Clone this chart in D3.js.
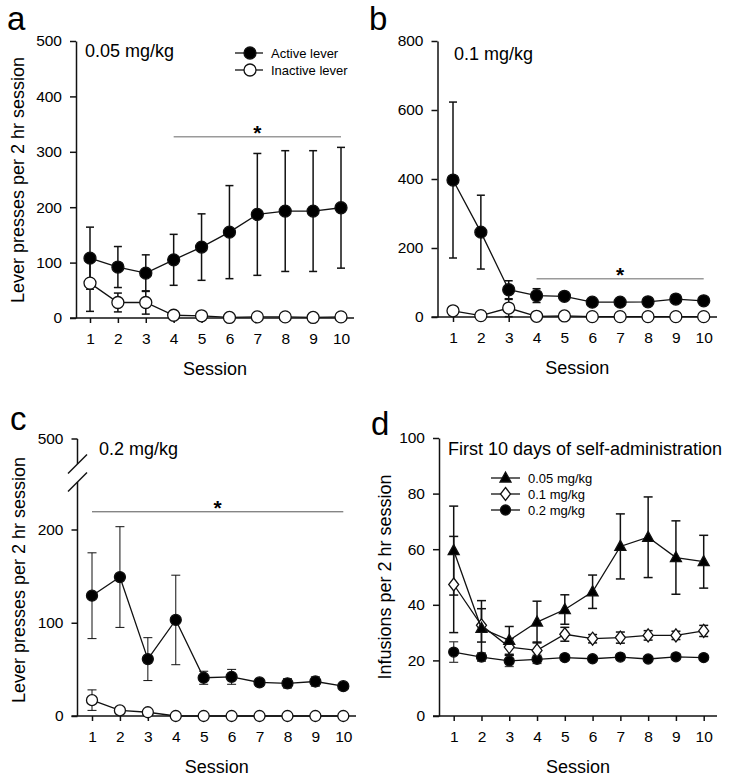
<!DOCTYPE html>
<html>
<head>
<meta charset="utf-8">
<script src="https://cdn.jsdelivr.net/npm/d3@7"></script>
<style>
  body { margin: 0; background: #fff; }
  svg { display: block; font-family: 'Liberation Sans', Arial, sans-serif; }
</style>
</head>
<body>
<svg id="chart" width="729" height="782"></svg>
<script>
const sessions = [1, 2, 3, 4, 5, 6, 7, 8, 9, 10];

// panel a : 0.05 mg/kg lever presses
const aActive = [108, 92, 81, 105, 128, 155, 187, 193, 193, 199];
const aActiveErr = [56, 37, 33, 46, 60, 84, 110, 109, 109, 109];
const aInactive = [63, 28, 28, 5, 4, 1, 2, 2, 1, 2];
const aInactiveErr = [51, 17, 21, 2, 2, 1, 1, 1, 1, 1];
const aTicks = [0, 100, 200, 300, 400, 500];

// panel b : 0.1 mg/kg
const bActive = [397, 246, 79, 62, 60, 43, 43, 44, 52, 47];
const bActiveErr = [226, 107, 26, 20, 8, 5, 5, 5, 6, 8];
const bInactive = [18, 4, 26, 2, 3, 1, 1, 1, 1, 1];
const bInactiveErr = [8, 2, 25, 1, 1, 1, 1, 1, 1, 1];
const bTicks = [0, 200, 400, 600, 800];

// panel c : 0.2 mg/kg (broken axis)
const cActive = [129, 149, 61, 103, 41, 42, 36, 35, 37, 32];
const cActiveErr = [46, 54, 23, 48, 7, 8, 4, 5, 5, 3];
const cInactive = [17, 6, 4, 0, 0, 0, 0, 0, 0, 0];
const cInactiveErr = [11, 3, 2, 0, 0, 0, 0, 0, 0, 0];
const cTicks = [0, 100, 200];
const cBreakTick = 500;

// panel d : infusions
const dLow = [59.5, 31.5, 27.2, 33.8, 38.3, 44.7, 61, 64.3, 57, 55.5];
const dLowErr = [16, 10, 5, 7.5, 5.3, 6, 11.7, 14.5, 13.2, 9.5];
const dMid = [47.3, 32.6, 24.8, 23.6, 29.4, 27.8, 28.2, 29, 29, 30.6];
const dMidErr = [17.3, 6, 3, 3, 2.5, 1.5, 2, 1.7, 1.5, 2];
const dHigh = [23, 21.2, 19.8, 20.4, 21, 20.6, 21.2, 20.5, 21.3, 21];
const dHighErr = [3.7, 1.5, 2, 1.5, 1, 1, 1, 0.8, 1, 0.8];
const dTicks = [0, 20, 40, 60, 80, 100];
const dLegend = ['0.05 mg/kg', '0.1 mg/kg', '0.2 mg/kg'];
const leverLegend = ['Active lever', 'Inactive lever'];

const svg = d3.select('#chart');
const ink = '#111';
const font = "'Liberation Sans', Arial, sans-serif";

const triangle = 'M0,-6L5.5,4L-5.5,4Z';
const diamond = 'M0,-6.5L5,0L0,6.5L-5,0Z';

const appendMarker = (node, shape, fill, r) => {
  if (shape === 'circle') {
    return node.append('circle').attr('r', r).style('fill', fill).style('stroke', ink).style('stroke-width', 1.3);
  }
  return node.append('path').attr('d', shape === 'triangle' ? triangle : diamond)
    .style('fill', fill).style('stroke', ink).style('stroke-width', 1.3);
};

const drawXAxis = (g, p, x) => {
  const axis = g.append('g')
    .attr('transform', `translate(0, ${p.bottom})`)
    .call(d3.axisBottom(x).tickValues(sessions).tickSize(5).tickSizeOuter(0).tickPadding(10));
  axis.select('.domain').remove();
  axis.selectAll('line').style('stroke', ink).style('stroke-width', 1.5);
  axis.selectAll('text').style('font-size', '15.5px').style('fill', '#000').style('font-family', font);
  g.append('line')
    .attr('x1', p.left - 6).attr('x2', p.right)
    .attr('y1', p.bottom).attr('y2', p.bottom)
    .style('stroke', ink).style('stroke-width', 1.5);
  g.append('text')
    .attr('x', (p.left + p.right) / 2)
    .attr('y', p.bottom + 57)
    .attr('text-anchor', 'middle')
    .style('font-size', '18px')
    .text('Session');
};

const drawYAxis = (g, p, y, ticks) => {
  const axis = g.append('g')
    .attr('transform', `translate(${p.left}, 0)`)
    .call(d3.axisLeft(y).tickValues(ticks).tickSize(6).tickSizeOuter(0).tickPadding(8));
  axis.select('.domain').style('stroke', ink).style('stroke-width', 1.5);
  axis.selectAll('line').style('stroke', ink).style('stroke-width', 1.5);
  axis.selectAll('text').style('font-size', '15.5px').style('fill', '#000').style('font-family', font);
  return axis;
};

const drawSeries = (g, x, y, values, errs, opts) => {
  const capW = opts.cap;
  const bars = g.append('g');
  values.forEach((v, i) => {
    if (!errs[i]) return;
    const cx = x(sessions[i]);
    [v + errs[i], Math.max(0, v - errs[i])].forEach((end) => {
      bars.append('line')
        .attr('x1', cx).attr('x2', cx).attr('y1', y(v)).attr('y2', y(end))
        .style('stroke', opts.errColor || ink).style('stroke-width', opts.errWidth);
      bars.append('line')
        .attr('x1', cx - capW).attr('x2', cx + capW).attr('y1', y(end)).attr('y2', y(end))
        .style('stroke', opts.errColor || ink).style('stroke-width', opts.errWidth);
    });
  });
  return bars;
};

const drawLine = (g, x, y, values, opts) => {
  g.append('path')
    .datum(values)
    .attr('d', d3.line().x((d, i) => x(sessions[i])).y((d) => y(d)))
    .style('fill', 'none').style('stroke', ink).style('stroke-width', 1.3);
  values.forEach((v, i) => {
    const m = g.append('g').attr('transform', `translate(${x(sessions[i])}, ${y(v)})`);
    appendMarker(m, opts.shape, opts.fill, opts.r);
  });
};

const drawSig = (g, x, xFrom, xTo, yPos, color, width) => {
  g.append('line')
    .attr('x1', x(xFrom)).attr('x2', x(xTo)).attr('y1', yPos).attr('y2', yPos)
    .style('stroke', color).style('stroke-width', width);
  g.append('text')
    .attr('x', (x(xFrom) + x(xTo)) / 2)
    .attr('y', yPos + 3)
    .attr('text-anchor', 'middle')
    .style('font-size', '21px')
    .style('font-weight', 700)
    .text('*');
};

const drawLetter = (letter, lx, ly) => svg.append('text')
  .attr('x', lx).attr('y', ly)
  .style('font-size', '33px')
  .text(letter);

const drawYLabel = (text, lx, cy) => svg.append('text')
  .attr('transform', `translate(${lx}, ${cy}) rotate(-90)`)
  .attr('text-anchor', 'middle')
  .style('font-size', '18px')
  .text(text);

const drawTitle = (text, tx, ty) => svg.append('text')
  .attr('x', tx).attr('y', ty)
  .style('font-size', '18px')
  .text(text);

const leverPanel = (p, active, activeErr, inactive, inactiveErr, ticks, yMax) => {
  const g = svg.append('g');
  const x = d3.scaleLinear().domain([1, 10]).range([p.x1, p.x10]);
  const y = d3.scaleLinear().domain([0, yMax]).range([p.bottom, p.top]);
  drawYAxis(g, p, y, ticks);
  drawXAxis(g, p, x);
  drawSig(g, x, p.sigFrom, 10, y(p.sigAt), '#9a9a9a', 1.5);
  drawSeries(g, x, y, inactive, inactiveErr, { cap: 4, errWidth: 1.5 });
  drawSeries(g, x, y, active, activeErr, { cap: 4, errWidth: 1.5 });
  drawLine(g, x, y, inactive, { shape: 'circle', fill: '#fff', r: 6 });
  drawLine(g, x, y, active, { shape: 'circle', fill: '#000', r: 6 });
  return g;
};

// a
leverPanel({ left: 76, right: 354, x1: 90, x10: 341, bottom: 318, top: 41, sigFrom: 4, sigAt: 327 },
  aActive, aActiveErr, aInactive, aInactiveErr, aTicks, 500);
drawLetter('a', 7, 30);
drawYLabel('Lever presses per 2 hr session', 24, 180);
drawTitle('0.05 mg/kg', 85, 57);

const legA = svg.append('g');
leverLegend.forEach((name, i) => {
  const row = legA.append('g').attr('transform', `translate(0, ${53 + i * 17})`);
  row.append('line').attr('x1', 235).attr('x2', 263).style('stroke', ink).style('stroke-width', 1.3);
  appendMarker(row.append('g').attr('transform', 'translate(250, 0)'), 'circle', i === 0 ? '#000' : '#fff', 6);
  row.append('text').attr('x', 271).attr('y', 4.5).style('font-size', '13px').text(name);
});

// b
leverPanel({ left: 437.5, right: 717, x1: 453, x10: 703.7, bottom: 317, top: 41, sigFrom: 4, sigAt: 111 },
  bActive, bActiveErr, bInactive, bInactiveErr, bTicks, 800);
drawLetter('b', 369, 30);
drawTitle('0.1 mg/kg', 454, 60);

// c
(() => {
  const p = { left: 77.5, right: 356, x1: 92, x10: 343.3, bottom: 716 };
  const g = svg.append('g');
  const x = d3.scaleLinear().domain([1, 10]).range([p.x1, p.x10]);
  const y = d3.scaleLinear().domain([0, 200]).range([p.bottom, 529.5]);
  const axis = drawYAxis(g, p, y, cTicks);
  axis.select('.domain').remove();
  const breakLow = 482;
  const breakHigh = 464;
  const topY = 439;
  g.append('line').attr('x1', p.left).attr('x2', p.left).attr('y1', p.bottom).attr('y2', breakLow)
    .style('stroke', ink).style('stroke-width', 1.5);
  g.append('line').attr('x1', p.left).attr('x2', p.left).attr('y1', breakHigh).attr('y2', topY)
    .style('stroke', ink).style('stroke-width', 1.5);
  [breakLow, breakHigh].forEach((by) => {
    g.append('line').attr('x1', p.left - 9.5).attr('x2', p.left + 9.5).attr('y1', by + 9.5).attr('y2', by - 9.5)
      .style('stroke', ink).style('stroke-width', 1.5);
  });
  g.append('line').attr('x1', p.left - 6).attr('x2', p.left).attr('y1', topY).attr('y2', topY)
    .style('stroke', ink).style('stroke-width', 1.5);
  g.append('text').attr('x', p.left - 14).attr('y', topY + 5).attr('text-anchor', 'end')
    .style('font-size', '15.5px').text(cBreakTick);
  drawXAxis(g, p, x);
  drawSig(g, x, 1, 10, y(219), '#555', 1);
  drawSeries(g, x, y, cInactive, cInactiveErr, { cap: 4.5, errWidth: 1 });
  drawSeries(g, x, y, cActive, cActiveErr, { cap: 4.5, errWidth: 1 });
  drawLine(g, x, y, cInactive, { shape: 'circle', fill: '#fff', r: 5.5 });
  drawLine(g, x, y, cActive, { shape: 'circle', fill: '#000', r: 5.5 });
})();
drawLetter('c', 10, 430);
drawYLabel('Lever presses per 2 hr session', 25, 580);
drawTitle('0.2 mg/kg', 99, 455);

// d
(() => {
  const p = { left: 439, right: 717, x1: 453.7, x10: 703.7, bottom: 716, top: 438 };
  const g = svg.append('g');
  const x = d3.scaleLinear().domain([1, 10]).range([p.x1, p.x10]);
  const y = d3.scaleLinear().domain([0, 100]).range([p.bottom, p.top]);
  drawYAxis(g, p, y, dTicks);
  drawXAxis(g, p, x);
  drawSeries(g, x, y, dHigh, dHighErr, { cap: 4.5, errWidth: 1.3, errColor: '#444' });
  drawSeries(g, x, y, dMid, dMidErr, { cap: 4.5, errWidth: 1.5 });
  drawSeries(g, x, y, dLow, dLowErr, { cap: 4.5, errWidth: 1.5 });
  drawLine(g, x, y, dHigh, { shape: 'circle', fill: '#000', r: 5 });
  drawLine(g, x, y, dMid, { shape: 'diamond', fill: '#fff' });
  drawLine(g, x, y, dLow, { shape: 'triangle', fill: '#000' });

  const styles = [
    { shape: 'triangle', fill: '#000' },
    { shape: 'diamond', fill: '#fff' },
    { shape: 'circle', fill: '#000', r: 5 },
  ];
  dLegend.forEach((name, i) => {
    const row = g.append('g').attr('transform', `translate(0, ${478 + i * 16})`);
    row.append('line').attr('x1', 491).attr('x2', 520).style('stroke', ink).style('stroke-width', 1.3);
    appendMarker(row.append('g').attr('transform', 'translate(505.5, 0)'), styles[i].shape, styles[i].fill, styles[i].r);
    row.append('text').attr('x', 528).attr('y', 4.5).style('font-size', '13px').text(name);
  });
})();
drawLetter('d', 371, 435);
drawYLabel('Infusions per 2 hr session', 391, 577);
drawTitle('First 10 days of self-administration', 448, 455);
</script>
</body>
</html>
